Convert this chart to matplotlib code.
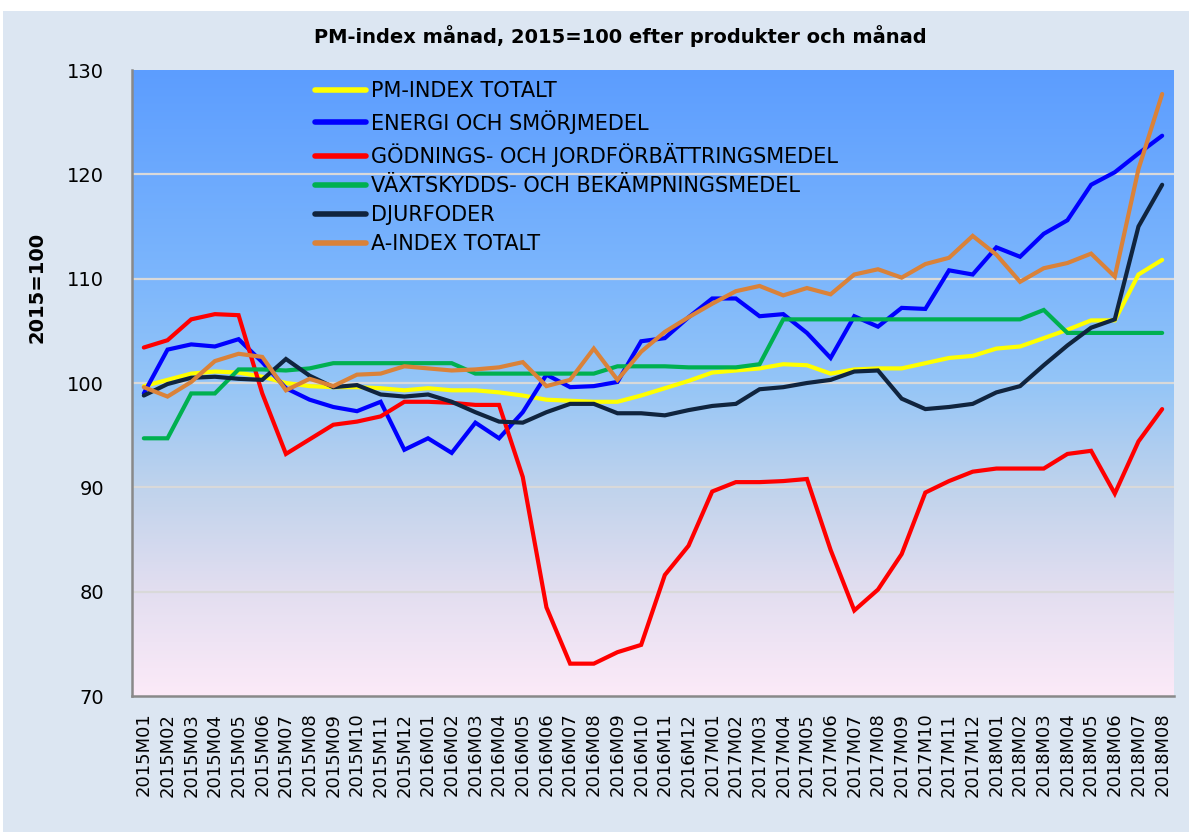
import numpy as np
import matplotlib
matplotlib.use("Agg")
import matplotlib.pyplot as plt
from matplotlib.patches import Rectangle

months = ["2015M01", "2015M02", "2015M03", "2015M04", "2015M05", "2015M06",
          "2015M07", "2015M08", "2015M09", "2015M10", "2015M11", "2015M12",
          "2016M01", "2016M02", "2016M03", "2016M04", "2016M05", "2016M06",
          "2016M07", "2016M08", "2016M09", "2016M10", "2016M11", "2016M12",
          "2017M01", "2017M02", "2017M03", "2017M04", "2017M05", "2017M06",
          "2017M07", "2017M08", "2017M09", "2017M10", "2017M11", "2017M12",
          "2018M01", "2018M02", "2018M03", "2018M04", "2018M05", "2018M06",
          "2018M07", "2018M08"]

pm_index = [99.7, 100.3, 100.9, 101.1, 101.0, 100.6, 100.0, 99.7, 99.6, 99.6, 99.5, 99.3,
            99.5, 99.3, 99.3, 99.1, 98.8, 98.4, 98.3, 98.2, 98.2, 98.8, 99.5, 100.2,
            101.0, 101.2, 101.4, 101.8, 101.7, 100.9, 101.3, 101.4, 101.4, 101.9, 102.4, 102.6,
            103.3, 103.5, 104.3, 105.1, 106.0, 106.0, 110.4, 111.8]

energi = [99.0, 103.2, 103.7, 103.5, 104.2, 102.0, 99.5, 98.4, 97.7, 97.3, 98.2, 93.6,
          94.7, 93.3, 96.2, 94.7, 97.2, 100.8, 99.6, 99.7, 100.1, 104.0, 104.3, 106.3,
          108.1, 108.1, 106.4, 106.6, 104.8, 102.4, 106.4, 105.4, 107.2, 107.1, 110.8, 110.4,
          113.0, 112.1, 114.3, 115.6, 119.0, 120.2, 122.0, 123.7]

godning = [103.4, 104.1, 106.1, 106.6, 106.5, 99.0, 93.2, 94.6, 96.0, 96.3, 96.8, 98.2,
           98.2, 98.1, 97.9, 97.9, 91.0, 78.5, 73.1, 73.1, 74.2, 74.9, 81.6, 84.4,
           89.6, 90.5, 90.5, 90.6, 90.8, 84.0, 78.2, 80.2, 83.6, 89.5, 90.6, 91.5,
           91.8, 91.8, 91.8, 93.2, 93.5, 89.4, 94.4, 97.5]

vaxtskydd = [94.7, 94.7, 99.0, 99.0, 101.3, 101.3, 101.2, 101.4, 101.9, 101.9, 101.9, 101.9,
             101.9, 101.9, 100.9, 100.9, 100.9, 100.9, 100.9, 100.9, 101.6, 101.6, 101.6, 101.5,
             101.5, 101.5, 101.8, 106.1, 106.1, 106.1, 106.1, 106.1, 106.1, 106.1, 106.1, 106.1,
             106.1, 106.1, 107.0, 104.8, 104.8, 104.8, 104.8, 104.8]

djurfoder = [98.8, 99.9, 100.5, 100.6, 100.4, 100.3, 102.3, 100.7, 99.6, 99.8, 98.9, 98.7,
             98.9, 98.2, 97.2, 96.3, 96.2, 97.2, 98.0, 98.0, 97.1, 97.1, 96.9, 97.4,
             97.8, 98.0, 99.4, 99.6, 100.0, 100.3, 101.1, 101.2, 98.5, 97.5, 97.7, 98.0,
             99.1, 99.7, 101.7, 103.6, 105.3, 106.1, 115.0, 119.0]

a_index = [99.6, 98.7, 100.1, 102.1, 102.8, 102.5, 99.3, 100.4, 99.7, 100.8, 100.9, 101.6,
           101.4, 101.2, 101.3, 101.5, 102.0, 99.7, 100.3, 103.3, 100.3, 103.0, 104.9, 106.3,
           107.6, 108.8, 109.3, 108.4, 109.1, 108.5, 110.4, 110.9, 110.1, 111.4, 112.0, 114.1,
           112.3, 109.7, 111.0, 111.5, 112.4, 110.2, 120.5, 127.7]

series_names = ["PM-INDEX TOTALT", "ENERGI OCH SMÖRJMEDEL",
                "GÖDNINGS- OCH JORDFÖRBÄTTRINGSMEDEL",
                "VÄXTSKYDDS- OCH BEKÄMPNINGSMEDEL", "DJURFODER", "A-INDEX TOTALT"]
series_values = [pm_index, energi, godning, vaxtskydd, djurfoder, a_index]
series_colors = ["#FFFF00", "#0000FF", "#FF0000", "#00B050", "#10243E", "#DA8239"]

title = "PM-index månad, 2015=100 efter produkter och månad"
ylabel = "2015=100"
yticks = [70, 80, 90, 100, 110, 120, 130]

W, H = 1189, 832
fig = plt.figure(figsize=(W / 100, H / 100), dpi=100)
fig.patch.set_facecolor("#DCE6F2")
fig.patches.append(Rectangle((0, 1 - 11 / H), 1, 11 / H, transform=fig.transFigure,
                             facecolor="white", edgecolor="none", zorder=0))
fig.patches.append(Rectangle((0, 0), 3 / W, 1, transform=fig.transFigure,
                             facecolor="white", edgecolor="none", zorder=0))

left, right, top, bottom = 132, 1174, 70, 696
ax = fig.add_axes([left / W, (H - bottom) / H, (right - left) / W, (bottom - top) / H])
ax.set_facecolor("none")

# background gradient (bottom -> top)
stops = [0.0, 0.17, 0.33, 0.5, 0.67, 1.0]
cols = np.array([[252, 234, 248], [226, 222, 240], [192, 211, 236],
                 [148, 197, 247], [124, 182, 252], [92, 157, 255]]) / 255.0
t = np.linspace(0, 1, 300)
grad = np.stack([np.interp(t, stops, cols[:, c]) for c in range(3)], axis=-1)[::-1]
grad = grad[:, None, :].repeat(2, axis=1)
ax.imshow(grad, extent=[0, 1, 0, 1], transform=ax.transAxes, aspect="auto",
          zorder=0, interpolation="bilinear")

for yv in yticks[1:-1]:
    ax.axhline(yv, color="#D9D9D9", lw=1.6, zorder=1)

for name, vals, col in zip(series_names, series_values, series_colors):
    ax.plot(months, vals, color=col, lw=3.0, label=name, zorder=3,
            solid_joinstyle="miter", solid_capstyle="round")

ax.set_xlim(-0.5, len(months) - 0.5)
ax.set_ylim(70, 130)
ax.set_yticks(yticks)
ax.tick_params(axis="y", length=0, pad=20, labelsize=14)
ax.tick_params(axis="x", length=0, pad=12, labelsize=13, rotation=90)
for lab in ax.get_xticklabels():
    lab.set_verticalalignment("top")

for s in ["top", "right"]:
    ax.spines[s].set_visible(False)
for s in ["left", "bottom"]:
    ax.spines[s].set_color("#898989")
    ax.spines[s].set_linewidth(1.8)
    ax.spines[s].set_zorder(4)

leg = ax.legend(loc="upper left", bbox_to_anchor=((315 - left) / (right - left), (bottom - 81) / (bottom - top)),
                frameon=False, fontsize=15, handlelength=2.45, handletextpad=0.25,
                labelspacing=0.44, borderaxespad=0, borderpad=0)
for ln in leg.get_lines():
    ln.set_linewidth(4)

fig.text(620 / W, 1 - 36 / H, title, ha="center", va="center",
         fontsize=14, fontweight="bold")
fig.text(37 / W, 1 - 287 / H, ylabel, ha="center", va="center", rotation=90,
         fontsize=14, fontweight="bold")

fig.savefig("out.png", dpi=100, facecolor=fig.get_facecolor())
